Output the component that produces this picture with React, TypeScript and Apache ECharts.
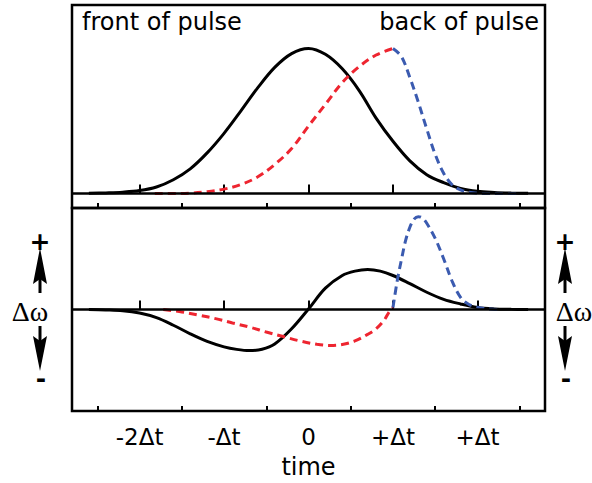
import React, { useEffect, useRef } from "react";
import * as echarts from "echarts";

// ---------- data (time in units of Δt) ----------
const tickValues = [-2, -1, 0, 1, 2];
const tickLabels = ["-2Δt", "-Δt", "0", "+Δt", "+Δt"];
const minorTickValues = [-2.5, -1.5, -0.5, 0.5, 1.5, 2.5];

// top panel: pulse intensity
const pulseTime = [-2.6, -2.4, -2.2, -2.0, -1.8, -1.6, -1.4, -1.2, -1.0, -0.8, -0.6, -0.4, -0.2, 0, 0.2, 0.4, 0.6, 0.8, 1.0, 1.2, 1.4, 1.6, 1.8, 2.0, 2.2, 2.4, 2.6];
const pulseIntensity = [0.001, 0.004, 0.009, 0.02, 0.045, 0.095, 0.17, 0.28, 0.415, 0.57, 0.73, 0.87, 0.965, 1.0, 0.96, 0.86, 0.71, 0.52, 0.36, 0.225, 0.13, 0.075, 0.035, 0.015, 0.007, 0.003, 0.001];

const frontTime = [-1.82, -1.6, -1.4, -1.2, -1.0, -0.8, -0.6, -0.4, -0.2, 0, 0.2, 0.4, 0.6, 0.8, 1.0];
const frontIntensity = [0, 0.0, 0.002, 0.012, 0.03, 0.062, 0.115, 0.2, 0.31, 0.465, 0.615, 0.765, 0.875, 0.955, 1.0];

const backTime = [1.0, 1.1, 1.2, 1.3, 1.4, 1.5, 1.6, 1.7, 1.8, 1.9, 2.1, 2.3, 2.5];
const backIntensity = [1.0, 0.945, 0.8, 0.63, 0.445, 0.27, 0.14, 0.06, 0.025, 0.008, 0.0, 0.0, 0.0];

// bottom panel: frequency shift Δω
const chirpTime = [-2.6, -2.4, -2.2, -2.0, -1.8, -1.6, -1.4, -1.2, -1.0, -0.85, -0.7, -0.55, -0.4, -0.2, 0, 0.2, 0.4, 0.55, 0.7, 0.85, 1.0, 1.2, 1.4, 1.6, 1.8, 2.0, 2.2, 2.4, 2.6];
const chirpShift = [0, -0.004, -0.012, -0.035, -0.08, -0.155, -0.24, -0.315, -0.368, -0.393, -0.405, -0.392, -0.34, -0.19, 0.005, 0.21, 0.335, 0.378, 0.394, 0.378, 0.335, 0.255, 0.17, 0.1, 0.055, 0.02, 0.006, 0.002, 0];

const frontShiftTime = [-1.72, -1.5, -1.3, -1.1, -0.9, -0.7, -0.5, -0.3, -0.1, 0.1, 0.25, 0.4, 0.55, 0.7, 0.8, 0.9, 0.95, 1.0];
const frontShift = [0, -0.024, -0.056, -0.09, -0.133, -0.173, -0.222, -0.266, -0.31, -0.343, -0.354, -0.345, -0.31, -0.245, -0.19, -0.1, -0.03, 0.02];

const backShiftTime = [1.0, 1.05, 1.1, 1.15, 1.2, 1.25, 1.3, 1.35, 1.4, 1.5, 1.6, 1.7, 1.8, 1.9, 2.0, 2.1, 2.25];
const backShift = [0.02, 0.28, 0.49, 0.68, 0.81, 0.89, 0.915, 0.9, 0.85, 0.7, 0.5, 0.28, 0.12, 0.05, 0.022, 0.008, 0];

const zip = (xs: number[], ys: number[]) => xs.map((x, i) => [x, ys[i]]);

const RED = "#ee2530";
const BLUE = "#3b5bb0";
const FONT = "DejaVu Sans";

function makeOption(): any {
  const gridCommon = {
    left: 72,
    right: 47,
    height: 203,
    show: true,
    borderColor: "#000",
    borderWidth: 2.5,
    backgroundColor: "transparent",
  };
  const xBase = (gridIndex: number, major: boolean, withLabels: boolean) => ({
    type: "value",
    gridIndex,
    position: "bottom",
    min: -2.8,
    max: 2.8,
    axisLine: { show: false },
    splitLine: { show: false },
    axisTick: {
      show: true,
      inside: true,
      length: major ? 9 : 5,
      lineStyle: { color: "#000", width: 2 },
      customValues: major ? tickValues : minorTickValues,
    },
    axisLabel: withLabels
      ? {
          show: true,
          customValues: tickValues,
          margin: 14,
          color: "#000",
          fontFamily: FONT,
          fontSize: 23,
          formatter: (v: number) => {
            const i = tickValues.findIndex((t) => Math.abs(t - v) < 1e-9);
            return i >= 0 ? tickLabels[i] : "";
          },
        }
      : { show: false, customValues: major ? tickValues : minorTickValues },
    name: withLabels ? "time" : "",
    nameLocation: "middle",
    nameGap: 44,
    nameTextStyle: { color: "#000", fontFamily: FONT, fontSize: 24 },
  });

  const lineSeries = (
    data: number[][],
    xIdx: number,
    yIdx: number,
    color: string,
    dashed: boolean
  ) => ({
    type: "line",
    xAxisIndex: xIdx,
    yAxisIndex: yIdx,
    data,
    smooth: 0.35,
    symbol: "none",
    z: dashed ? 4 : 3,
    lineStyle: {
      color,
      width: 3,
      type: dashed ? [8, 5] : "solid",
      cap: "butt",
    },
    silent: true,
  });

  const zeroLine = (xIdx: number, yIdx: number) => ({
    type: "line",
    xAxisIndex: xIdx,
    yAxisIndex: yIdx,
    data: [],
    z: 1,
    silent: true,
    markLine: {
      silent: true,
      symbol: ["none", "none"],
      label: { show: false },
      lineStyle: { color: "#000", width: 2.5, type: "solid" },
      data: [{ yAxis: 0 }],
    },
  });

  const arrow = (x: number, tail: number, tip: number, base: number, notch: number) => [
    {
      type: "line",
      shape: { x1: x, y1: tail, x2: x, y2: notch },
      style: { stroke: "#000", lineWidth: 3 },
    },
    {
      type: "polygon",
      shape: {
        points: [
          [x, tip],
          [x + 7, base],
          [x, notch],
          [x - 7, base],
        ],
      },
      style: { fill: "#000" },
    },
  ];

  const sideLabels = (cx: number, dwX: number) => [
    {
      type: "text",
      x: cx,
      y: 241,
      style: { text: "+", font: `bold 25px ${FONT}`, fill: "#000", align: "center", verticalAlign: "middle" },
    },
    ...arrow(cx, 293, 248, 284, 279),
    {
      type: "text",
      x: dwX,
      y: 311,
      style: { text: "Δω", font: `28px "Liberation Serif"`, fill: "#000", align: "center", verticalAlign: "middle" },
    },
    ...arrow(cx, 326, 371, 336, 341),
    {
      type: "text",
      x: cx + 1,
      y: 378,
      style: { text: "-", font: `bold 25px ${FONT}`, fill: "#000", align: "center", verticalAlign: "middle" },
    },
  ];

  return {
    animation: false,
    backgroundColor: "#fff",
    grid: [
      { ...gridCommon, top: 5 },
      { ...gridCommon, top: 208 },
    ],
    xAxis: [xBase(0, true, false), xBase(0, false, false), xBase(1, true, true), xBase(1, false, false)],
    yAxis: [
      { type: "value", gridIndex: 0, min: -0.1, max: 1.3, show: false, splitLine: { show: false } },
      { type: "value", gridIndex: 1, min: -1, max: 1, show: false, splitLine: { show: false } },
    ],
    series: [
      zeroLine(0, 0),
      zeroLine(2, 1),
      lineSeries(zip(pulseTime, pulseIntensity), 0, 0, "#000", false),
      lineSeries(zip(frontTime, frontIntensity), 0, 0, RED, true),
      lineSeries(zip(backTime, backIntensity), 0, 0, BLUE, true),
      lineSeries(zip(chirpTime, chirpShift), 2, 1, "#000", false),
      lineSeries(zip(frontShiftTime, frontShift), 2, 1, RED, true),
      lineSeries(zip(backShiftTime, backShift), 2, 1, BLUE, true),
    ],
    graphic: [
      {
        type: "text",
        left: 82,
        top: 10,
        style: { text: "front of pulse", font: `24px ${FONT}`, fill: "#000" },
      },
      {
        type: "text",
        right: 53,
        top: 10,
        style: { text: "back of pulse", font: `24px ${FONT}`, fill: "#000" },
      },
      ...sideLabels(40, 30),
      ...sideLabels(565, 574),
    ],
  };
}

export default function App() {
  const ref = useRef<HTMLDivElement>(null);
  useEffect(() => {
    if (!ref.current) return;
    const chart = echarts.init(ref.current, undefined, { renderer: "svg" });
    chart.setOption(makeOption());
    return () => chart.dispose();
  }, []);
  return (
    <div
      ref={ref}
      style={{ position: "absolute", left: 0, top: 0, width: 592, height: 483, background: "#fff" }}
    />
  );
}
